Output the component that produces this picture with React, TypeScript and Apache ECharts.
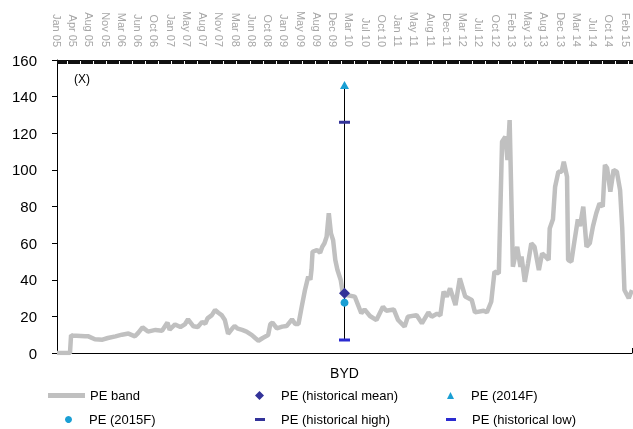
import React, { useEffect, useRef } from "react";
import * as echarts from "echarts";

const topLabels = ["Jan 05","Apr 05","Aug 05","Nov 05","Mar 06","Jun 06","Oct 06","Jan 07","May 07","Aug 07","Nov 07","Mar 08","Jun 08","Oct 08","Jan 09","May 09","Aug 09","Dec 09","Mar 10","Jul 10","Oct 10","Jan 11","May 11","Aug 11","Dec 11","Mar 12","Jul 12","Oct 12","Feb 13","May 13","Aug 13","Dec 13","Mar 14","Jul 14","Oct 14","Feb 15"];

// weeks since Jan 05
const weeks = [0,12,13,14,26,29,35,42,47,54,60,66,72,75,79,84,91,97,102,104,109,114,118,121,126,130,134,137,139,143,146,149,152,155,158,162,164,167,171,175,180,183,186,190,195,197,199,203,208,212,217,220,223,226,229,232,234,235,236,240,243,245,247,249,251,253,255,257,259,262,264,267,275,281,284,289,295,301,304,311,315,321,324,332,337,343,346,351,354,357,360,363,368,372,377,383,386,394,397,401,404,408,411,414,416,418,421,425,428,429,432,435,438,441,445,448,451,454,455,458,460,463,466,468,471,472,475,478,481,483,486,489,492,495,498,501,504,506,508,511,514,517,520,522,524,528,531];
const peBand = [0,0,9.8,9.5,9.2,9.1,7.5,7.3,8.2,9.1,10,10.6,9.1,11,14,11.7,12.6,12.2,16.6,12.7,15.6,14.2,15.6,18.4,14.6,14.2,17,16,18.9,20.7,23.5,22,20.7,18,10.5,13.5,14.7,13.3,12.6,11.7,9.8,8.2,6.7,8.2,9.8,15.8,16.6,13.5,14.4,14.7,18.4,15.8,15.8,25.3,34.4,41.7,40,45.3,55.3,56.2,54.8,58,59.9,63.5,76.3,65.3,61.6,50.8,45.3,39.9,32.6,31.7,30.8,21.7,23.8,20.2,18,25.3,23.1,23.8,18,14.4,19.8,20.7,16.2,22.2,19.8,21.5,20.5,33.5,30.8,35.3,26.2,40.8,30.8,29,22.2,23.1,22.2,28,44.4,43.5,115.4,118.1,105.4,127.2,47.1,58,47,52.7,38.9,49,59.9,58,45.3,54.4,52.7,50.8,68,73,90.8,99,99,104.5,96.3,50.8,49.9,61.7,73,69.3,79.9,58,59.9,69.3,76.3,81.7,79.9,102.7,101,88.1,100,99,89,68,34.4,29.9,34.4];

const company = ["BYD"];
const peMean = [32.6];
const pe2014F = [146.3];
const pe2015F = [27.5];
const peHigh = [126];
const peLow = [7.1];

const FONT = "Liberation Sans, Arial, sans-serif";

export default function App() {
  const ref = useRef<HTMLDivElement>(null);
  useEffect(() => {
    document.body.style.margin = "0";
    const chart = echarts.init(ref.current!, null, { renderer: "svg" });
    const legendText = { fontFamily: FONT, fontSize: 13, color: "#000" };
    const mkLegend = (name: string, left: number, top: number, icon: string, w: number, h: number, pad: number) => ({
      data: [name],
      left,
      top,
      padding: 0,
      icon,
      itemWidth: w,
      itemHeight: h,
      selectedMode: false,
      textStyle: { ...legendText, padding: [0, 0, 0, pad] },
    });
    chart.setOption({
      animation: false,
      textStyle: { fontFamily: FONT },
      grid: { left: 57, right: 1, top: 60, bottom: 76, containLabel: false, outerBoundsMode: "none" },
      legend: [
        mkLegend("PE band", 48, 389, "rect", 37, 5, 0),
        mkLegend("PE (historical mean)", 255, 389, "diamond", 9, 9, 12),
        mkLegend("PE (2014F)", 447, 389, "triangle", 7, 7, 12),
        mkLegend("PE (2015F)", 65, 413, "circle", 7, 7, 12),
        mkLegend("PE (historical high)", 255, 413, "rect", 10, 3, 11),
        mkLegend("PE (historical low)", 446, 413, "rect", 10, 3, 11),
      ],
      xAxis: [
        {
          type: "value",
          position: "top",
          min: 0,
          max: 531,
          interval: 15,
          axisLine: { show: true, onZero: false, lineStyle: { color: "#000", width: 1 } },
          axisTick: { show: true, inside: true, length: 4, lineStyle: { color: "#111" } },
          minorTick: { show: true, splitNumber: 15, length: 4, lineStyle: { color: "#111" } },
          splitLine: { show: false },
          axisLabel: {
            rotate: 90,
            margin: 13,
            fontSize: 11,
            color: "#a6a6a6",
            fontFamily: FONT,
            formatter: (v: number) => {
              const k = v / 15;
              return Number.isInteger(k) && topLabels[k] ? topLabels[k] : "";
            },
          },
        },
        {
          type: "category",
          position: "bottom",
          data: company,
          boundaryGap: true,
          axisLine: { show: true, onZero: false, lineStyle: { color: "#000", width: 1 } },
          axisTick: { show: true, inside: true, length: 5, lineStyle: { color: "#000" } },
          axisLabel: { fontSize: 14, color: "#000", margin: 13, fontFamily: FONT },
        },
      ],
      yAxis: {
        type: "value",
        min: 0,
        max: 160,
        interval: 20,
        axisLine: { show: true, onZero: false, lineStyle: { color: "#000", width: 1 } },
        axisTick: { show: true, length: 5, lineStyle: { color: "#000" } },
        splitLine: { show: false },
        axisLabel: { fontSize: 15, color: "#000", margin: 20, fontFamily: FONT },
      },
      graphic: [
        { type: "text", left: 74, top: 73, style: { text: "(X)", fontSize: 12, fill: "#000", fontFamily: FONT } },
      ],
      series: [
        {
          name: "PE band",
          type: "line",
          xAxisIndex: 0,
          data: weeks.map((w, i) => [w, peBand[i]]),
          symbol: "none",
          lineStyle: { color: "#c0c0c0", width: 4.5 },
          itemStyle: { color: "#c0c0c0" },
          z: 2,
        },
        {
          name: "range",
          type: "line",
          xAxisIndex: 1,
          data: [[company[0], peLow[0]], [company[0], pe2014F[0]]],
          symbol: "none",
          lineStyle: { color: "#000", width: 1 },
          z: 3,
        },
        {
          name: "PE (historical high)",
          type: "scatter",
          xAxisIndex: 1,
          data: company.map((c, i) => [c, peHigh[i]]),
          symbol: "rect",
          symbolSize: [11, 3],
          itemStyle: { color: "#333399", opacity: 1 },
          z: 4,
        },
        {
          name: "PE (historical low)",
          type: "scatter",
          xAxisIndex: 1,
          data: company.map((c, i) => [c, peLow[i]]),
          symbol: "rect",
          symbolSize: [11, 3],
          itemStyle: { color: "#2b2bd0", opacity: 1 },
          z: 4,
        },
        {
          name: "PE (2015F)",
          type: "scatter",
          xAxisIndex: 1,
          data: company.map((c, i) => [c, pe2015F[i]]),
          symbol: "circle",
          symbolSize: 8,
          itemStyle: { color: "#1a9fd4", opacity: 1 },
          z: 4,
        },
        {
          name: "PE (historical mean)",
          type: "scatter",
          xAxisIndex: 1,
          data: company.map((c, i) => [c, peMean[i]]),
          symbol: "diamond",
          symbolSize: [11, 11],
          itemStyle: { color: "#333399", opacity: 1 },
          z: 5,
        },
        {
          name: "PE (2014F)",
          type: "scatter",
          xAxisIndex: 1,
          data: company.map((c, i) => [c, pe2014F[i]]),
          symbol: "triangle",
          symbolSize: [9, 8],
          itemStyle: { color: "#1a9fd4", opacity: 1 },
          z: 5,
        },
      ],
    });
    return () => chart.dispose();
  }, []);
  return <div ref={ref} style={{ position: "fixed", left: 0, top: 0, width: 633, height: 429 }} />;
}
